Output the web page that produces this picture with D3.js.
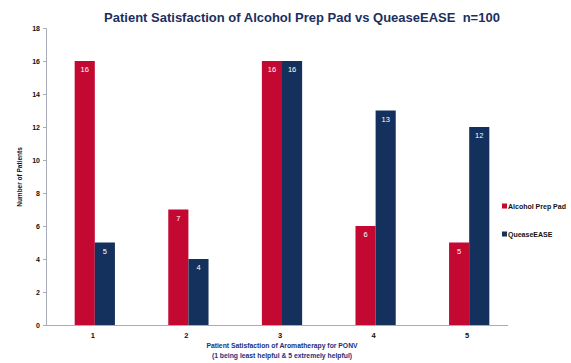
<!DOCTYPE html>
<html><head><meta charset="utf-8">
<script src="https://cdn.jsdelivr.net/npm/d3@7"></script>
<style>body{margin:0;background:#fff}svg{display:block}</style>
</head><body>
<svg id="c" width="571" height="363"></svg>
<script>
const categories = ["1","2","3","4","5"];
const seriesNames = ["Alcohol Prep Pad","QueaseEASE"];
const alcohol = [16,7,16,6,5];
const quease = [5,4,16,13,12];
const yTicks = [0,2,4,6,8,10,12,14,16,18];
const colors = ["#C30832","#14305C"];

const svg = d3.select("#c");
const x = d3.scaleBand().domain(categories).range([48,516]).paddingInner(0.57).paddingOuter(0.285);
const x1 = d3.scaleBand().domain([0,1]).range([0,x.bandwidth()]);
const y = d3.scaleLinear().domain([0,18]).range([325,28]);

// title
svg.append("text").attr("x",302).attr("y",22).attr("text-anchor","middle")
  .style("white-space","pre")
  .attr("font-family","Liberation Sans, Arial, sans-serif").attr("font-weight","bold")
  .attr("font-size",13).attr("fill","#1B2F5E")
  .text("Patient Satisfaction of Alcohol Prep Pad vs QueaseEASE  n=100");

// y axis
const ya = svg.append("g").attr("transform","translate(46,0)")
  .call(d3.axisLeft(y).tickValues(yTicks).tickSize(3).tickFormat(d3.format("d")));
ya.select(".domain").attr("stroke","#A8ACB8");
ya.selectAll(".tick line").attr("stroke","#A8ACB8");
ya.selectAll(".tick text").attr("font-family","Liberation Sans, Arial, sans-serif")
  .attr("font-weight","bold").attr("font-size",7).attr("fill","#111").attr("x",-6);

// bars
const data = categories.map((c,i)=>({c, v:[alcohol[i],quease[i]]}));
const g = svg.append("g");
data.forEach(d=>{
  d.v.forEach((v,j)=>{
    const bx = x(d.c)+x1(j), bw = x1.bandwidth();
    g.append("rect").attr("x",bx).attr("y",y(v)).attr("width",bw).attr("height",y(0)-y(v))
      .attr("fill",colors[j]);
    g.append("text").attr("x",bx+bw/2).attr("y",y(v)+11).attr("text-anchor","middle")
      .attr("font-family","Liberation Sans, Arial, sans-serif").attr("font-size",7.5)
      .attr("fill","#fff").text(v);
  });
});

// x axis
const xa = svg.append("g").attr("transform","translate(0,325)")
  .call(d3.axisBottom(x).tickSize(0).tickPadding(8));
xa.select(".domain").remove();
svg.append("line").attr("x1",46).attr("x2",508).attr("y1",325.5).attr("y2",325.5)
  .attr("stroke","#A8ACB8").attr("stroke-width",1.2);
xa.selectAll(".tick text").attr("font-family","Liberation Sans, Arial, sans-serif")
  .attr("font-weight","bold").attr("font-size",7.5).attr("fill","#111").attr("dx",-2);

// axis titles
svg.append("text").attr("transform","translate(22,177) rotate(-90)").attr("text-anchor","middle")
  .attr("font-family","Liberation Sans, Arial, sans-serif").attr("font-weight","bold")
  .attr("font-size",6.5).attr("fill","#111").text("Number of Patients");
const xt = svg.append("text").attr("text-anchor","middle")
  .attr("font-family","Liberation Sans, Arial, sans-serif").attr("font-weight","bold")
  .attr("font-size",6.8).attr("fill","#1B2F7E");
xt.append("tspan").attr("x",282).attr("y",348).text("Patient Satisfaction of Aromatherapy for PONV");
xt.append("tspan").attr("x",282).attr("y",358).text("(1 being least helpful & 5 extremely helpful)");

// legend
seriesNames.forEach((s,i)=>{
  const ly = 206 + i*28;
  svg.append("rect").attr("x",502).attr("y",ly-2.5).attr("width",5).attr("height",5).attr("fill",colors[i]);
  svg.append("text").attr("x",508).attr("y",ly+2.5).attr("font-family","Liberation Sans, Arial, sans-serif")
    .attr("font-weight","bold").attr("font-size",7).attr("fill","#111").text(s);
});
</script>
</body></html>
